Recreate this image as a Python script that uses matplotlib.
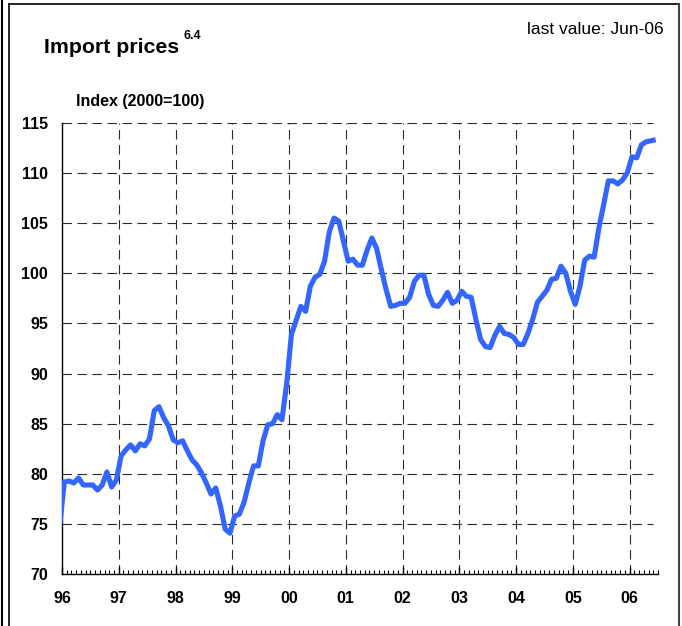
import matplotlib
matplotlib.use("Agg")
import matplotlib.pyplot as plt
from matplotlib.lines import Line2D
import numpy as np

# ---- data (monthly, Dec-95 .. Jun-06; Dec-95 is mostly clipped at the axis) ----
values = [
    74.8,                                                                  # Dec-95
    79.2, 79.3, 79.1, 79.6, 78.9, 78.9, 78.9, 78.4, 78.9, 80.2, 78.7, 79.4,  # 1996
    81.8, 82.4, 82.9, 82.3, 83.0, 82.8, 83.5, 86.3, 86.7, 85.6, 84.8, 83.4,  # 1997
    83.1, 83.3, 82.3, 81.4, 80.9, 80.1, 79.1, 78.0, 78.6, 76.8, 74.5, 74.1,  # 1998
    75.8, 76.0, 77.2, 79.1, 80.8, 80.8, 83.3, 84.9, 85.0, 85.9, 85.4, 89.0,  # 1999
    93.9, 95.3, 96.7, 96.2, 98.7, 99.6, 99.9, 101.2, 104.1, 105.5, 105.2, 103.2,  # 2000
    101.2, 101.4, 100.8, 100.8, 102.3, 103.5, 102.5, 100.4, 98.4, 96.7, 96.8, 97.0,  # 2001
    97.0, 97.6, 99.2, 99.8, 99.8, 97.9, 96.8, 96.7, 97.3, 98.1, 97.0, 97.3,  # 2002
    98.2, 97.7, 97.6, 95.4, 93.4, 92.7, 92.6, 93.8, 94.7, 94.0, 93.9, 93.6,  # 2003
    92.9, 92.9, 94.0, 95.4, 97.1, 97.7, 98.3, 99.4, 99.5, 100.7, 100.0, 98.2,  # 2004
    96.9, 98.7, 101.3, 101.7, 101.6, 104.5, 106.8, 109.2, 109.2, 108.9, 109.3, 110.0,  # 2005
    111.6, 111.5, 112.8, 113.1, 113.2, 113.3,                               # 2006
]
year_labels = ["96", "97", "98", "99", "00", "01", "02", "03", "04", "05", "06"]
y_ticks = [70, 75, 80, 85, 90, 95, 100, 105, 110, 115]

title = "Import prices"
title_sup = "6.4"
subtitle = "last value: Jun-06"
unit_label = "Index (2000=100)"

# ---- figure ----
W, H = 682, 626
fig = plt.figure(figsize=(W / 100, H / 100), dpi=100)
plt.rcParams["font.family"] = ["Liberation Sans", "DejaVu Sans"]

ax_l, ax_r, ax_t, ax_b = 62, 658, 122.7, 574.3
ax = fig.add_axes([ax_l / W, 1 - ax_b / H, (ax_r - ax_l) / W, (ax_b - ax_t) / H])

n_months = 12 * (len(year_labels) - 1) + 6   # 126 months
x = np.arange(len(values)) - 0.5              # mid-month positions, Dec-95 at -0.5
ax.set_xlim(0, n_months)
ax.set_ylim(70, 115)

# grid
grid_kw = dict(color="#2a2a2a", lw=0.8, linestyle=(0, (8.5, 5)), zorder=1)
for yv in y_ticks[1:]:
    ax.axhline(yv, xmin=0, xmax=(653 - ax_l) / (ax_r - ax_l), **grid_kw)
for i in range(1, len(year_labels)):
    ax.axvline(12 * i, **grid_kw)

ax.plot(x, values, color="#3366ff", lw=3.7, solid_joinstyle="round",
        solid_capstyle="butt", zorder=3, clip_on=True)

for s in ["top", "right"]:
    ax.spines[s].set_visible(False)
for s in ["left", "bottom"]:
    ax.spines[s].set_linewidth(1.0)
    ax.spines[s].set_color("black")

ax.set_yticks(y_ticks)
ax.set_yticklabels([str(v) for v in y_ticks], fontsize=11.5, fontweight="bold")
ax.tick_params(axis="y", length=0, pad=10)

ax.set_xticks([12 * i for i in range(len(year_labels))])
ax.set_xticklabels(year_labels, fontsize=11.5, fontweight="bold")
ax.set_xticks(np.arange(0, n_months + 1), minor=True)
ax.tick_params(axis="x", which="major", direction="in", length=5, width=1, pad=12)
ax.tick_params(axis="x", which="minor", direction="in", length=3, width=0.8)

# texts
fig.text(44 / W, 1 - 53 / H, title, fontsize=15.3, fontweight="bold", ha="left", va="baseline")
fig.text(183 / W, 1 - 39 / H, title_sup, fontsize=9, fontweight="bold", ha="left", va="baseline")
fig.text(664 / W, 1 - 34 / H, subtitle, fontsize=12.5, ha="right", va="baseline")
fig.text(76 / W, 1 - 106 / H, unit_label, fontsize=11.5, fontweight="bold", ha="left", va="baseline")

# frame lines
def fline(x0, y0, x1, y1, lw=1.2, c="black"):
    fig.add_artist(Line2D([x0 / W, x1 / W], [1 - y0 / H, 1 - y1 / H], color=c, lw=lw,
                          transform=fig.transFigure))

fline(1.5, 0, 1.5, H, lw=1.5)
fline(9, 4, 9, H, lw=1.2)
fline(9, 4, 679, 4, lw=1.2)
fline(679, 4, 679, H, lw=1.5, c="#444444")

fig.savefig("out.png", dpi=100)
